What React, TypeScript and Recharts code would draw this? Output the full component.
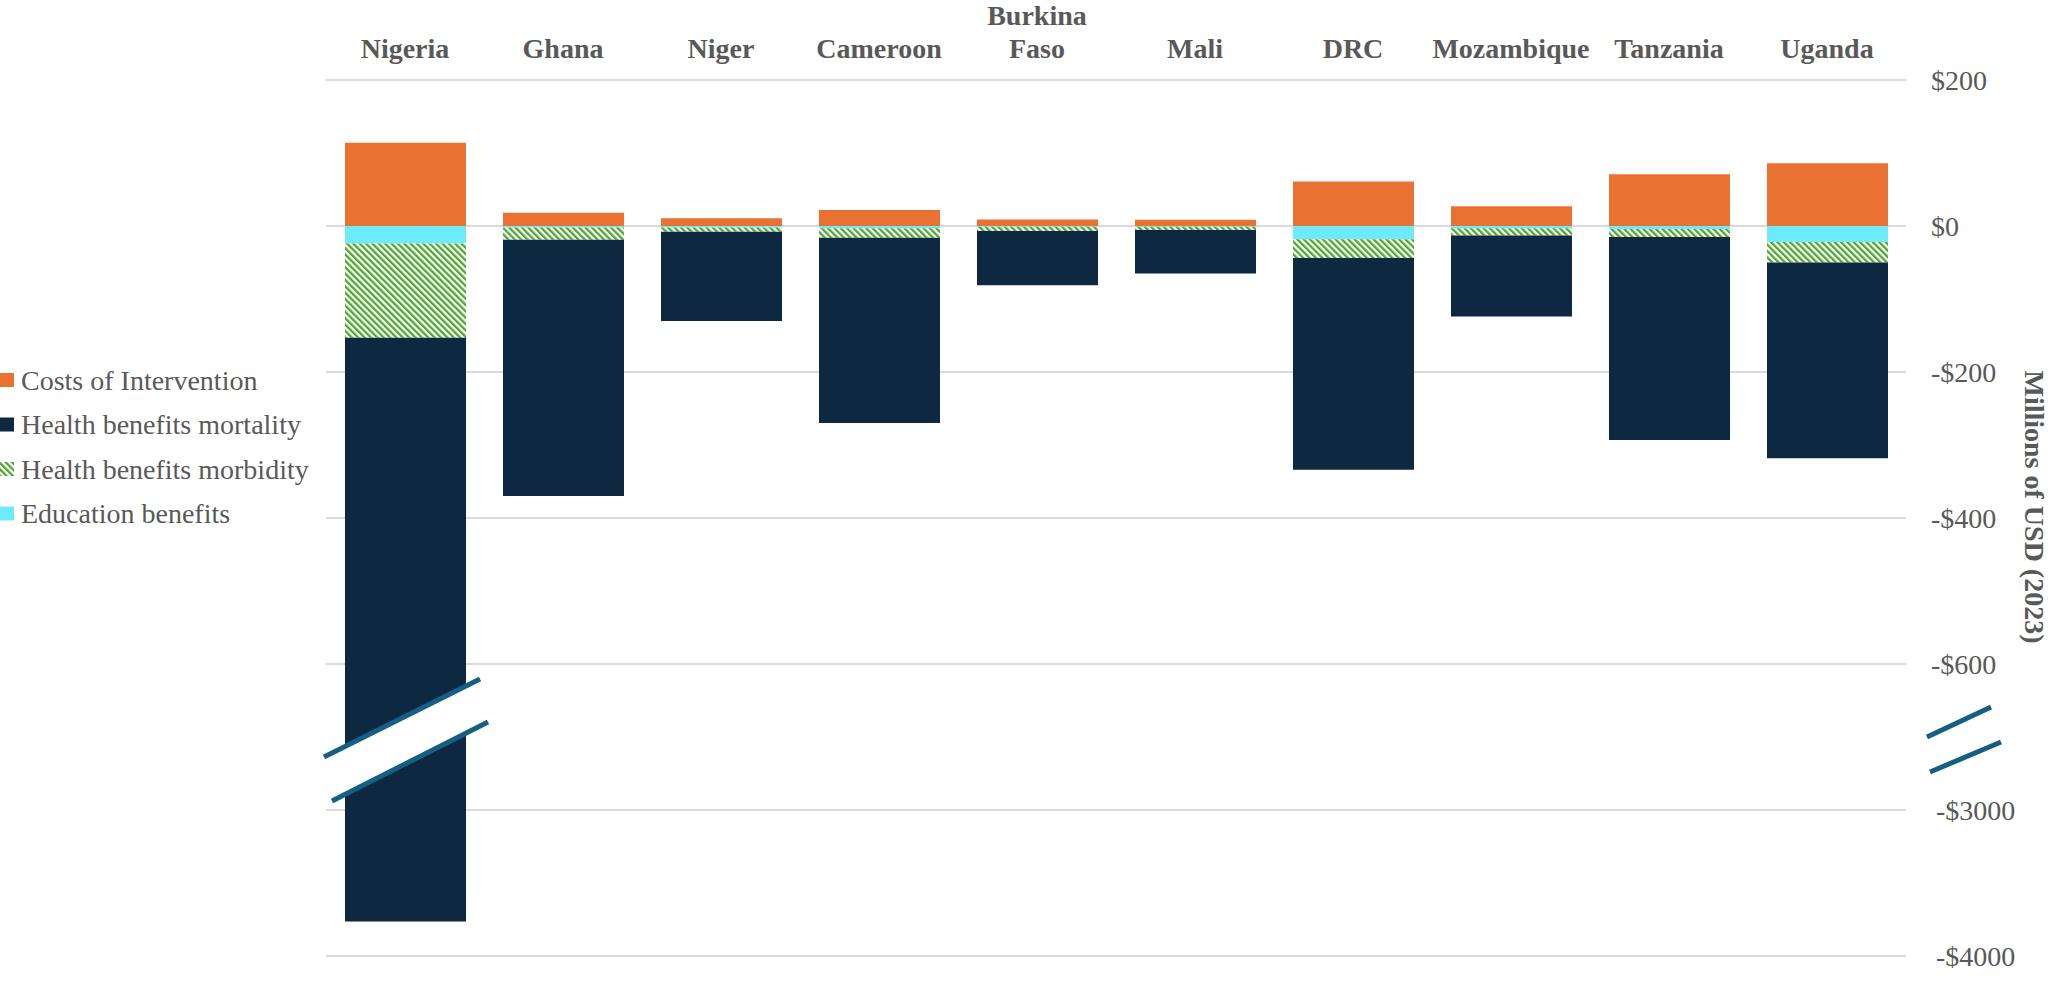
import { Bar, BarChart, CartesianGrid, XAxis, YAxis } from 'recharts';

// Net cost / benefit by country, millions of USD (2023)
const countries = ['Nigeria', 'Ghana', 'Niger', 'Cameroon', 'Burkina Faso', 'Mali', 'DRC', 'Mozambique', 'Tanzania', 'Uganda'];
const costs = [114, 18, 10.5, 22, 9, 8.5, 61, 27, 71, 86];
const education = [-24, -2, -2, -3, -1, -1, -18, -3, -4, -22];
const morbidity = [-129, -17, -6, -13, -6, -4.5, -26, -10, -11, -28];
const mortality = [-3610, -351, -122, -254, -74, -59.5, -290, -111, -278, -268];

const yTicks = [200, 0, -200, -400, -600, -3000, -4000];

const FONT = '"Liberation Serif", "Times New Roman", serif';
const FS = 28;
const TEXT = '#595959';
const ORANGE = '#E97132';
const NAVY = '#0E2841';
const CYAN = '#6DEBFC';
const GREEN = '#4EA72E';
const BREAK = '#156082';

const W = 2054;
const H = 983;
const margin = { top: 10, right: 28, bottom: 27, left: 326 };
const X_AXIS_H = 70;
const Y_AXIS_W = 120;
const plotTop = margin.top + X_AXIS_H;
const plotBottom = H - margin.bottom;
const plotRight = W - margin.right - Y_AXIS_W;

// broken axis: -600..-3000 and -3000..-4000 each squeezed into one 200-unit step
const toAxis = (v: number) =>
  v >= -600 ? v : v >= -3000 ? -600 + (v + 600) / 12 : -800 + (v + 3000) / 5;

const yOf = (axisVal: number) => plotTop + ((200 - axisVal) / 1200) * (plotBottom - plotTop);

const rows = countries.map((country, i) => {
  const b1 = education[i];
  const b2 = b1 + morbidity[i];
  const b3 = b2 + mortality[i];
  return {
    country,
    costs: toAxis(costs[i]),
    education: toAxis(b1),
    morbidity: toAxis(b2) - toAxis(b1),
    mortality: toAxis(b3) - toAxis(b2),
  };
});

const fmt = (v: number) => (v < 0 ? `-$${-v}` : `$${v}`);

const CountryTick = ({ x, y, payload }: any) => {
  const lines = String(payload.value).split(' ');
  return (
    <text x={x} y={y} textAnchor="middle" fill={TEXT} fontFamily={FONT} fontSize={FS} fontWeight="bold">
      {lines.map((line, i) => (
        <tspan key={i} x={x} y={y - 22 - (lines.length - 1 - i) * 33}>
          {line}
        </tspan>
      ))}
    </text>
  );
};

const ValueTick = ({ x, y, payload }: any) => {
  const real = yTicks.find(t => toAxis(t) === payload.value) ?? payload.value;
  const shift = real < -600 ? 5 : 0;
  return (
    <text x={x + shift} y={y} dy="0.35em" textAnchor="start" fill={TEXT} fontFamily={FONT} fontSize={FS}>
      {fmt(real)}
    </text>
  );
};

const legendItems = [
  { label: 'Costs of Intervention', fill: ORANGE },
  { label: 'Health benefits mortality', fill: NAVY },
  { label: 'Health benefits morbidity', fill: 'url(#hatchLegend)' },
  { label: 'Education benefits', fill: CYAN },
];

const Hatch = ({ id }: { id: string }) => (
  <pattern id={id} width="4.5" height="4.5" patternUnits="userSpaceOnUse" patternTransform="rotate(-45)">
    <rect width="4.5" height="4.5" fill="#fff" />
    <rect width="2.3" height="4.5" fill={GREEN} />
  </pattern>
);

export default function App() {
  const bandW = (plotRight - margin.left) / countries.length;
  const ngX = margin.left + bandW / 2;
  const cy = yOf(-700);

  return (
    <div style={{ position: 'absolute', left: 0, top: 0, width: W, height: H, background: '#fff' }}>
      <svg width={0} height={0} style={{ position: 'absolute' }}>
        <defs>
          <Hatch id="hatchBar" />
        </defs>
      </svg>
      <BarChart width={W} height={H} data={rows} margin={margin} stackOffset="sign">
        <CartesianGrid vertical={false} stroke="#D9D9D9" strokeWidth={2} />
        <XAxis
          dataKey="country"
          orientation="top"
          height={X_AXIS_H}
          axisLine={false}
          tickLine={false}
          tickSize={0}
          tickMargin={0}
          interval={0}
          tick={<CountryTick />}
        />
        <YAxis
          orientation="right"
          width={Y_AXIS_W}
          type="number"
          domain={[-1000, 200]}
          ticks={yTicks.map(toAxis)}
          interval={0}
          axisLine={false}
          tickLine={false}
          tickSize={0}
          tickMargin={25}
          tick={<ValueTick />}
        />
        <Bar dataKey="costs" stackId="s" fill={ORANGE} barSize={121} isAnimationActive={false} />
        <Bar dataKey="education" stackId="s" fill={CYAN} barSize={121} isAnimationActive={false} />
        <Bar dataKey="morbidity" stackId="s" fill="url(#hatchBar)" barSize={121} isAnimationActive={false} />
        <Bar dataKey="mortality" stackId="s" fill={NAVY} barSize={121} isAnimationActive={false} />
      </BarChart>

      <svg width={W} height={H} style={{ position: 'absolute', left: 0, top: 0, pointerEvents: 'none' }}>
        <defs>
          <Hatch id="hatchLegend" />
        </defs>

        {/* axis break across the Nigeria bar */}
        <polygon
          points={`${ngX - 81},${cy + 20} ${ngX + 75},${cy - 58} ${ngX + 83},${cy - 15} ${ngX - 73},${cy + 64}`}
          fill="#fff"
        />
        <line x1={ngX - 81} y1={cy + 20} x2={ngX + 75} y2={cy - 58} stroke={BREAK} strokeWidth={5} />
        <line x1={ngX - 73} y1={cy + 64} x2={ngX + 83} y2={cy - 15} stroke={BREAK} strokeWidth={5} />

        {/* axis break on the value axis */}
        <line x1={plotRight + 21} y1={cy} x2={plotRight + 85} y2={cy - 30} stroke={BREAK} strokeWidth={5} />
        <line x1={plotRight + 24} y1={cy + 35} x2={plotRight + 95} y2={cy + 5} stroke={BREAK} strokeWidth={5} />

        <text
          transform={`translate(2034, 507) rotate(90)`}
          textAnchor="middle"
          dominantBaseline="central"
          fill={TEXT}
          fontFamily={FONT}
          fontSize={FS}
          fontWeight="bold"
        >
          Millions of USD (2023)
        </text>

        {legendItems.map((item, i) => {
          const y = 380 + i * 44.5;
          return (
            <g key={item.label}>
              <rect x={0} y={y - 7} width={14} height={14} fill={item.fill} />
              <text x={21} y={y} dy="0.35em" fill={TEXT} fontFamily={FONT} fontSize={FS}>
                {item.label}
              </text>
            </g>
          );
        })}
      </svg>
    </div>
  );
}
